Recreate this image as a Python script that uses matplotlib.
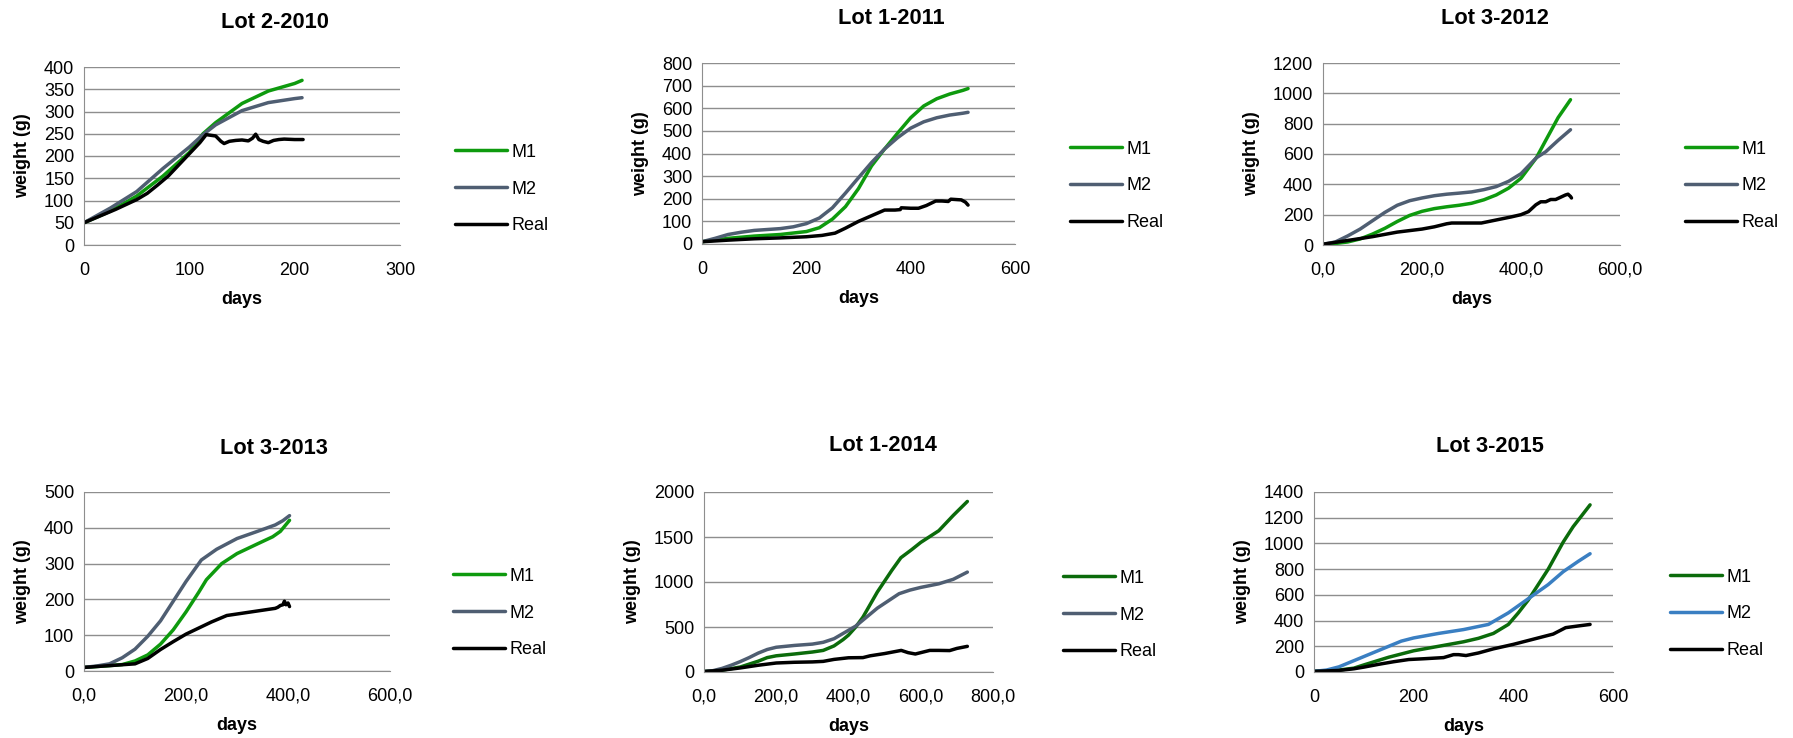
import matplotlib
matplotlib.use('Agg')
from matplotlib import pyplot as plt

plt.rcParams['font.family'] = ['Liberation Sans', 'DejaVu Sans']

# ---- data (days, weight in g) ----
# Lot 2-2010
d1_m1 = [0, 25, 50, 75, 100, 113, 125, 150, 175, 200, 207]
w1_m1 = [50, 76, 110, 155, 208, 250, 275, 318, 346, 363, 370]
d1_m2 = [0, 25, 50, 75, 100, 113, 125, 150, 175, 200, 207]
w1_m2 = [50, 83, 120, 172, 220, 248, 270, 302, 320, 329, 331]
d1_re = [0, 10, 20, 30, 40, 50, 60, 70, 80, 90, 100, 110, 116, 125, 130, 133,
         138, 144, 150, 156, 160, 163, 166, 170, 175, 180, 185, 190, 200, 208]
w1_re = [50, 60, 70, 80, 91, 102, 116, 135, 155, 180, 205, 230, 248, 245, 233, 228,
         233, 235, 236, 234, 240, 249, 237, 233, 230, 235, 237, 238, 237, 237]

# Lot 1-2011
d2_m1 = [0, 50, 100, 150, 200, 225, 250, 275, 300, 325, 350, 375, 400, 425, 450, 475, 500, 510]
w2_m1 = [10, 25, 35, 42, 55, 72, 110, 165, 245, 345, 420, 490, 558, 610, 642, 663, 679, 687]
d2_m2 = [0, 25, 50, 75, 100, 125, 150, 175, 200, 225, 250, 275, 300, 325, 350, 375, 400, 425, 450, 475, 500, 510]
w2_m2 = [10, 25, 42, 52, 60, 64, 68, 76, 90, 115, 160, 225, 293, 360, 420, 470, 512, 540, 558, 570, 578, 582]
d2_re = [0, 50, 100, 150, 200, 230, 255, 275, 300, 325, 350, 370, 380, 382, 400, 415,
         430, 448, 460, 472, 477, 490, 497, 505, 510]
w2_re = [10, 17, 23, 27, 32, 38, 48, 70, 100, 125, 150, 150, 152, 160, 158, 158,
         170, 190, 190, 188, 198, 196, 195, 185, 172]

# Lot 3-2012
d3_m1 = [0, 25, 50, 75, 100, 125, 150, 175, 200, 225, 250, 275, 300, 325, 350, 375, 400, 431, 450, 475, 500]
w3_m1 = [5, 10, 20, 40, 72, 110, 155, 195, 222, 240, 252, 262, 275, 298, 330, 375, 440, 575, 690, 840, 958]
d3_m2 = [0, 25, 50, 75, 100, 125, 150, 175, 200, 225, 250, 275, 300, 325, 350, 375, 400, 431, 450, 475, 500]
w3_m2 = [5, 20, 60, 105, 160, 215, 262, 292, 310, 325, 335, 342, 350, 365, 385, 420, 470, 575, 615, 690, 760]
d3_re = [0, 50, 100, 150, 175, 200, 225, 250, 260, 300, 320, 350, 380, 400, 415, 430,
         440, 450, 460, 470, 480, 490, 495, 500, 502]
w3_re = [5, 30, 55, 85, 95, 105, 120, 140, 145, 145, 145, 165, 185, 200, 220, 265,
         285, 285, 300, 300, 315, 330, 335, 320, 310]

# Lot 3-2013
d4_m1 = [0, 50, 75, 100, 125, 150, 175, 200, 225, 240, 270, 300, 340, 370, 385, 403]
w4_m1 = [10, 15, 18, 28, 45, 75, 115, 165, 220, 255, 300, 328, 355, 375, 390, 421]
d4_m2 = [0, 25, 50, 75, 100, 125, 150, 175, 200, 230, 260, 300, 340, 375, 390, 403]
w4_m2 = [10, 14, 20, 37, 61, 97, 140, 195, 250, 310, 340, 370, 390, 408, 420, 434]
d4_re = [0, 50, 100, 125, 150, 175, 200, 225, 250, 280, 375, 380, 385, 390, 393, 396, 400, 403]
w4_re = [10, 15, 20, 35, 60, 82, 103, 120, 137, 155, 175, 178, 183, 185, 195, 185, 190, 180]

# Lot 1-2014
d5_m1 = [0, 50, 100, 150, 175, 200, 250, 300, 330, 360, 385, 400, 420, 440, 460, 480,
         500, 520, 545, 575, 600, 650, 690, 729]
w5_m1 = [5, 20, 55, 120, 160, 180, 200, 222, 240, 290, 360, 410, 500, 610, 750, 890,
         1010, 1130, 1270, 1360, 1440, 1570, 1740, 1895]
d5_m2 = [0, 25, 50, 75, 100, 125, 150, 175, 200, 250, 300, 330, 360, 390, 420, 450,
         480, 510, 540, 570, 600, 650, 690, 729]
w5_m2 = [5, 15, 40, 75, 115, 160, 210, 250, 275, 295, 310, 330, 370, 440, 510, 610,
         710, 790, 870, 910, 940, 980, 1030, 1110]
d5_re = [0, 50, 100, 150, 200, 250, 300, 330, 360, 400, 440, 460, 500, 546, 565, 585,
         610, 625, 650, 680, 700, 729]
w5_re = [5, 20, 45, 75, 100, 108, 112, 118, 140, 158, 160, 180, 205, 240, 215, 200,
         225, 240, 240, 238, 262, 285]

# Lot 3-2015
d6_m1 = [0, 50, 80, 100, 125, 150, 200, 250, 300, 330, 360, 390, 410, 430, 450, 470, 500, 520, 540, 554]
w6_m1 = [5, 15, 30, 55, 85, 115, 165, 200, 235, 262, 300, 370, 460, 560, 680, 800, 1010, 1130, 1230, 1300]
d6_m2 = [0, 25, 50, 75, 100, 125, 150, 175, 200, 250, 300, 350, 390, 430, 470, 500, 530, 554]
w6_m2 = [5, 15, 40, 80, 120, 160, 200, 240, 265, 300, 330, 370, 460, 570, 680, 780, 860, 920]
d6_re = [0, 50, 80, 100, 130, 160, 190, 220, 260, 280, 290, 305, 330, 360, 400, 440, 480, 505, 530, 554]
w6_re = [5, 12, 25, 38, 60, 80, 97, 103, 112, 135, 135, 128, 148, 180, 215, 255, 295, 345, 358, 370]

titles = ['Lot 2-2010', 'Lot 1-2011', 'Lot 3-2012', 'Lot 3-2013', 'Lot 1-2014', 'Lot 3-2015']
xticks = [[0, 100, 200, 300], [0, 200, 400, 600], [0, 200, 400, 600],
          [0, 200, 400, 600], [0, 200, 400, 600, 800], [0, 200, 400, 600]]
xticklabels = [['0', '100', '200', '300'], ['0', '200', '400', '600'],
               ['0,0', '200,0', '400,0', '600,0'], ['0,0', '200,0', '400,0', '600,0'],
               ['0,0', '200,0', '400,0', '600,0', '800,0'], ['0', '200', '400', '600']]
yticks = [list(range(0, 401, 50)), list(range(0, 801, 100)), list(range(0, 1201, 200)),
          list(range(0, 501, 100)), list(range(0, 2001, 500)), list(range(0, 1401, 200))]

series = [
    (d1_m1, w1_m1, d1_m2, w1_m2, d1_re, w1_re),
    (d2_m1, w2_m1, d2_m2, w2_m2, d2_re, w2_re),
    (d3_m1, w3_m1, d3_m2, w3_m2, d3_re, w3_re),
    (d4_m1, w4_m1, d4_m2, w4_m2, d4_re, w4_re),
    (d5_m1, w5_m1, d5_m2, w5_m2, d5_re, w5_re),
    (d6_m1, w6_m1, d6_m2, w6_m2, d6_re, w6_re),
]

green = '#0E9A0E'
dkgreen = '#0B6B0B'
slate = '#4F5E72'
blue = '#3A7FC2'
m1_col = [green, green, green, green, dkgreen, dkgreen]
m2_col = [slate, slate, slate, slate, slate, blue]

# layout in pixels: (left, right, top, bottom), legend (x, y), title (x, y)
W, H = 1793, 738
boxes = [(84, 400, 67, 245), (702, 1015, 63, 244), (1323, 1620, 63, 245),
         (84, 390, 492, 671), (704, 993, 492, 672), (1314, 1613, 492, 672)]
leg_pos = [(455, 189), (1070, 186), (1685, 186), (453, 613), (1063, 615), (1670, 614)]
tit_pos = [(275, 22), (891, 18), (1495, 18), (274, 448), (883, 446), (1490, 447)]

fig = plt.figure(figsize=(W / 100, H / 100), dpi=100)

for i in range(6):
    l, r, t, b = boxes[i]
    ax = fig.add_axes([l / W, 1 - b / H, (r - l) / W, (b - t) / H])
    dm1, wm1, dm2, wm2, dre, wre = series[i]
    ax.plot(dm1, wm1, color=m1_col[i], lw=2.5, label='M1', solid_capstyle='round')
    ax.plot(dm2, wm2, color=m2_col[i], lw=2.5, label='M2', solid_capstyle='round')
    ax.plot(dre, wre, color='black', lw=2.5, label='Real', solid_capstyle='round')
    ax.set_xlim(xticks[i][0], xticks[i][-1])
    ax.set_ylim(yticks[i][0], yticks[i][-1])
    ax.set_xticks(xticks[i])
    ax.set_xticklabels(xticklabels[i])
    ax.set_yticks(yticks[i])
    ax.tick_params(length=0, labelsize=13)
    ax.tick_params(axis='x', pad=12)
    ax.tick_params(axis='y', pad=7)
    ax.grid(axis='y', color='#8E8E8E', lw=1.0)
    ax.set_axisbelow(True)
    for s in ['top', 'right']:
        ax.spines[s].set_visible(False)
    ax.spines['left'].set_color('#8E8E8E')
    ax.spines['bottom'].set_color('#8E8E8E')
    ax.set_xlabel('days', fontsize=13, fontweight='bold', labelpad=9)
    ax.set_ylabel('weight (g)', fontsize=13, fontweight='bold', labelpad=9)
    fig.text(tit_pos[i][0] / W, 1 - tit_pos[i][1] / H, titles[i], fontsize=15.7,
             fontweight='bold', ha='center', va='center')
    ax.legend(loc='center left', bbox_to_anchor=(leg_pos[i][0] / W, 1 - leg_pos[i][1] / H),
              bbox_transform=fig.transFigure, frameon=False, fontsize=13,
              handlelength=2.9, handletextpad=0.25, labelspacing=1.1,
              borderpad=0, borderaxespad=0)

fig.savefig('out.png', dpi=100)
